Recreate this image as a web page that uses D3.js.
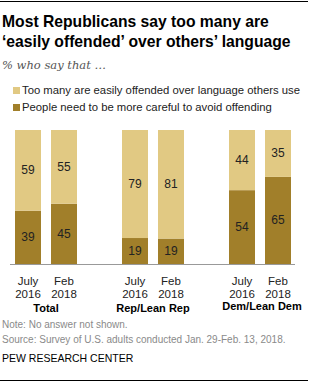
<!DOCTYPE html>
<html>
<head>
<meta charset="utf-8">
<script src="https://cdn.jsdelivr.net/npm/d3@7"></script>
<style>
  body { margin: 0; background: #fff; }
  svg { display: block; }
  .title { font-family: "Liberation Sans", Arial, sans-serif; font-weight: bold; font-size: 15.7px; fill: #000; }
  .sub { font-family: "DejaVu Serif", Georgia, serif; font-style: italic; font-size: 11.5px; fill: #555; }
  .txt { font-family: "Liberation Sans", Arial, sans-serif; font-size: 11.3px; fill: #222; }
  .grp { font-family: "Liberation Sans", Arial, sans-serif; font-size: 11px; font-weight: bold; fill: #000; }
  .note { font-family: "Liberation Sans", Arial, sans-serif; font-size: 10px; fill: #8a8a8a; }
</style>
</head>
<body>
<svg id="chart" width="309" height="382"></svg>
<script>
const groups = ["Total", "Rep/Lean Rep", "Dem/Lean Dem"];
const periods = ["July 2016", "Feb 2018"];
const offended = [59, 55, 79, 81, 44, 35];  // too many easily offended
const careful = [39, 45, 19, 19, 54, 65];   // people need to be more careful
const legendLabels = [
  "Too many are easily offended over language others use",
  "People need to be more careful to avoid offending"
];
const colors = ["#e1c983", "#a17f2a"];

const svg = d3.select("#chart");

// rows built from the arrays above
const rows = [];
groups.forEach((g, gi) => {
  periods.forEach((p, pi) => {
    const i = gi * periods.length + pi;
    rows.push({ group: g, period: p, offended: offended[i], careful: careful[i] });
  });
});

const x0 = d3.scaleBand().domain(groups).range([15, 291]).paddingInner(45 / 107);
const x1 = d3.scaleBand().domain(periods).range([0, x0.bandwidth()]).paddingInner(10 / 36);
const y = d3.scaleLinear().domain([0, 100]).range([264, 130]);

// top and bottom rules
svg.append("line").attr("x1", 0).attr("x2", 308).attr("y1", 1.5).attr("y2", 1.5)
  .attr("stroke", "#000").attr("stroke-width", 1.2);
svg.append("line").attr("x1", 0).attr("x2", 308).attr("y1", 380.5).attr("y2", 380.5)
  .attr("stroke", "#000").attr("stroke-width", 1.2);

// title
svg.append("text").attr("class", "title").attr("x", 2).attr("y", 27)
  .text("Most Republicans say too many are");
svg.append("text").attr("class", "title").attr("x", 2).attr("y", 47)
  .text("\u2018easily offended\u2019 over others\u2019 language");
svg.append("text").attr("class", "sub").attr("x", 2).attr("y", 69)
  .text("% who say that \u2026");

// legend
const legend = svg.append("g").attr("transform", "translate(13,87)");
legendLabels.forEach((l, i) => {
  const row = legend.append("g").attr("transform", "translate(0," + i * 17 + ")");
  row.append("rect").attr("width", 7).attr("height", 7).attr("fill", colors[i]);
  row.append("text").attr("class", "txt").attr("x", 9).attr("y", 7).text(l);
});

// bars
const bars = svg.append("g");
rows.forEach((d) => {
  const total = d.offended + d.careful;
  const xb = x0(d.group) + x1(d.period);
  const w = x1.bandwidth();
  const c = (d.careful / total) * 100;
  const segs = [
    { v: d.careful, lo: 0, hi: c, fill: colors[1] },
    { v: d.offended, lo: c, hi: 100, fill: colors[0] }
  ];
  segs.forEach((s) => {
    bars.append("rect")
      .attr("x", xb).attr("width", w)
      .attr("y", y(s.hi)).attr("height", y(s.lo) - y(s.hi))
      .attr("fill", s.fill);
    bars.append("text").attr("class", "txt")
      .attr("x", xb + w / 2).attr("y", (y(s.lo) + y(s.hi)) / 2 + 4)
      .attr("text-anchor", "middle").style("font-size", "12px").attr("fill", "#222")
      .text(s.v);
  });
  // tick labels
  const parts = d.period.split(" ");
  parts.forEach((t, k) => {
    svg.append("text").attr("class", "txt")
      .attr("x", xb + w / 2).attr("y", 285 + k * 13)
      .attr("text-anchor", "middle").style("font-size", "11.5px")
      .text(t);
  });
});

// baseline
svg.append("line").attr("x1", 10).attr("x2", 295).attr("y1", y(0) + 0.5).attr("y2", y(0) + 0.5)
  .attr("stroke", "#999").attr("stroke-width", 1);

// group labels
groups.forEach((g) => {
  svg.append("text").attr("class", "grp")
    .attr("x", x0(g) + x0.bandwidth() / 2 + (g === "Dem/Lean Dem" ? 2 : 0))
    .attr("y", g === "Dem/Lean Dem" ? 310 : 312)
    .attr("text-anchor", "middle").text(g);
});

// footer
svg.append("text").attr("class", "note").attr("x", 2).attr("y", 328).text("Note: No answer not shown.");
svg.append("text").attr("class", "note").attr("x", 2).attr("y", 343)
  .text("Source: Survey of U.S. adults conducted Jan. 29-Feb. 13, 2018.");
svg.append("text").attr("class", "note").attr("x", 2).attr("y", 362)
  .style("fill", "#000").style("font-size", "10.5px")
  .text("PEW RESEARCH CENTER");
</script>
</body>
</html>
